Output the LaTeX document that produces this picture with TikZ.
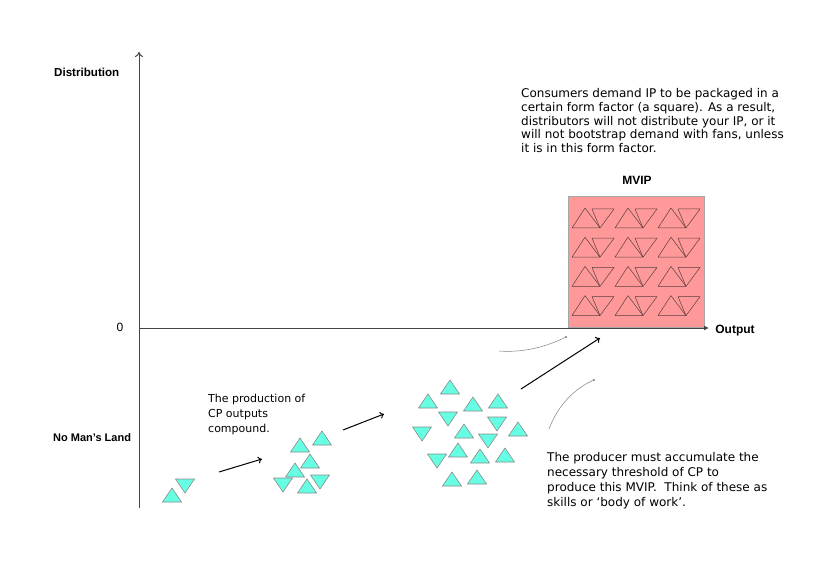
\documentclass[tikz,border=0pt]{standalone}
\usepackage{fontspec}
\setmainfont{Liberation Sans}
\newfontfamily\bodyfont{DejaVu Sans}
\usetikzlibrary{arrows.meta}
\definecolor{tricol}{HTML}{66FFE3}
\definecolor{boxred}{HTML}{FF9999}
\definecolor{tristroke}{HTML}{8A8A8A}
\definecolor{mvipline}{HTML}{5A3E3E}
\definecolor{axisgray}{HTML}{444444}
\newcommand{\tup}[2]{\draw[tri] (#1,#2) -- ++(-9.5,14) -- ++(19,0) -- cycle;}
\newcommand{\tdn}[2]{\draw[tri] (#1-9.5,#2) -- ++(19,0) -- ++(-9.5,14) -- cycle;}
\newcommand{\mvcell}[2]{%
  \draw[mvtri] (#1,#2) -- ++(28,0) -- ++(-15,-20) -- cycle;
  \draw[mvtri] (#1+20,#2-19) -- ++(22,0) -- ++(-14,19) -- cycle;}
\begin{document}
\begin{tikzpicture}[x=1pt,y=-1pt,
  lbl/.style={font=\fontsize{12}{14}\selectfont\bfseries, inner sep=0, anchor=base},
  txt/.style={align=left, inner sep=0, anchor=north west},
  tri/.style={fill=tricol, draw=tristroke, line width=0.6pt, line join=round},
  mvtri/.style={draw=mvipline, line width=0.5pt, line join=round},
  axis/.style={draw=axisgray, line width=1pt},
  flow/.style={draw=black, line width=1pt, -{To[length=4pt,width=7pt]}},
  hint/.style={draw=gray, line width=0.5pt}]
\useasboundingbox (0,0) rectangle (815,575);

% MVIP box
\node[draw=gray!70, fill=boxred, line width=0.8pt, minimum width=136pt, minimum height=131pt, inner sep=0, anchor=north west] (box) at (568,196) {};
\foreach \i in {0,1,2}{\foreach \j in {0,1,2,3}{\mvcell{572+43*\i}{228+29.2*\j}}}

% axes
\coordinate (origin) at (139,328);
\coordinate (ytop) at (139,52);
\coordinate (ybot) at (139,508);
\coordinate (xend) at (709,328);
\draw[axis, -{To[length=5pt,width=8pt]}] (ybot) -- (ytop);
\draw[axis, -{Latex[length=5pt,width=5pt]}] (origin) -- (xend);

% labels
\node[lbl, font=\fontsize{11.6}{14}\selectfont\bfseries, anchor=base west] (dist) at (54,76.3) {Distribution};
\node[lbl, font=\fontsize{11}{14}\selectfont\bfseries, anchor=base west] (nml) at (53,441.5) {No Man’s Land};
\node[lbl] (out) at (735,333.5) {Output};
\node[lbl] (mvip) at (637,184.5) {MVIP};
\node[font=\fontsize{12}{14}\selectfont, inner sep=0, anchor=base] (zero) at (120,331.5) {0};

% texts
\node[txt, font=\bodyfont\fontsize{12}{13.6}\selectfont] (t1) at (521,88.5) {Consumers demand IP to be packaged in a\\certain form factor (a square). As a result,\\distributors will not distribute your IP, or it\\will not bootstrap demand with fans, unless\\it is in this form factor.};
\node[txt, font=\bodyfont\fontsize{11}{15}\selectfont] (t2) at (208,394) {The production of\\CP outputs\\compound.};
\node[txt, font=\bodyfont\fontsize{12}{15}\selectfont] (t3) at (547,452.5) {The producer must accumulate the\\necessary threshold of CP to\\produce this MVIP.\ \ Think of these as\\skills or ‘body of work’.};

% group 1
\tup{172}{488}
\tdn{185}{479}
% group 2
\tup{300}{438}\tup{322}{431}\tup{310}{454}\tup{295}{463}\tup{307}{479}
\tdn{283}{478}\tdn{320}{475}
% group 3
\tup{450}{380}\tup{428}{394}\tup{473}{397}\tup{498}{394}\tup{464}{424}\tup{518}{422}
\tup{458}{443}\tup{480}{449}\tup{505}{448}\tup{452}{472}\tup{477}{470}
\tdn{448}{412}\tdn{497}{417}\tdn{422}{427}\tdn{488}{434}\tdn{437}{454}

% flow arrows
\coordinate (a1s) at (219,472); \coordinate (a1e) at (262,459);
\coordinate (a2s) at (343,430); \coordinate (a2e) at (384,414);
\coordinate (a3s) at (521,389); \coordinate (a3e) at (600,338);
\draw[flow] (a1s) -- (a1e);
\draw[flow] (a2s) -- (a2e);
\draw[flow] (a3s) -- (a3e);

% gray hint curves
\coordinate (c1s) at (499,351); \coordinate (c1e) at (566,337);
\coordinate (c2s) at (549,429); \coordinate (c2e) at (594,380);
\draw[hint] (c1s) .. controls (525,353) and (548,346) .. (c1e);
\fill[gray] (c1e) circle (1.1);
\draw[hint] (c2s) .. controls (558,405) and (575,388) .. (c2e);
\fill[gray] (c2e) circle (1.1);
\end{tikzpicture}
\end{document}
